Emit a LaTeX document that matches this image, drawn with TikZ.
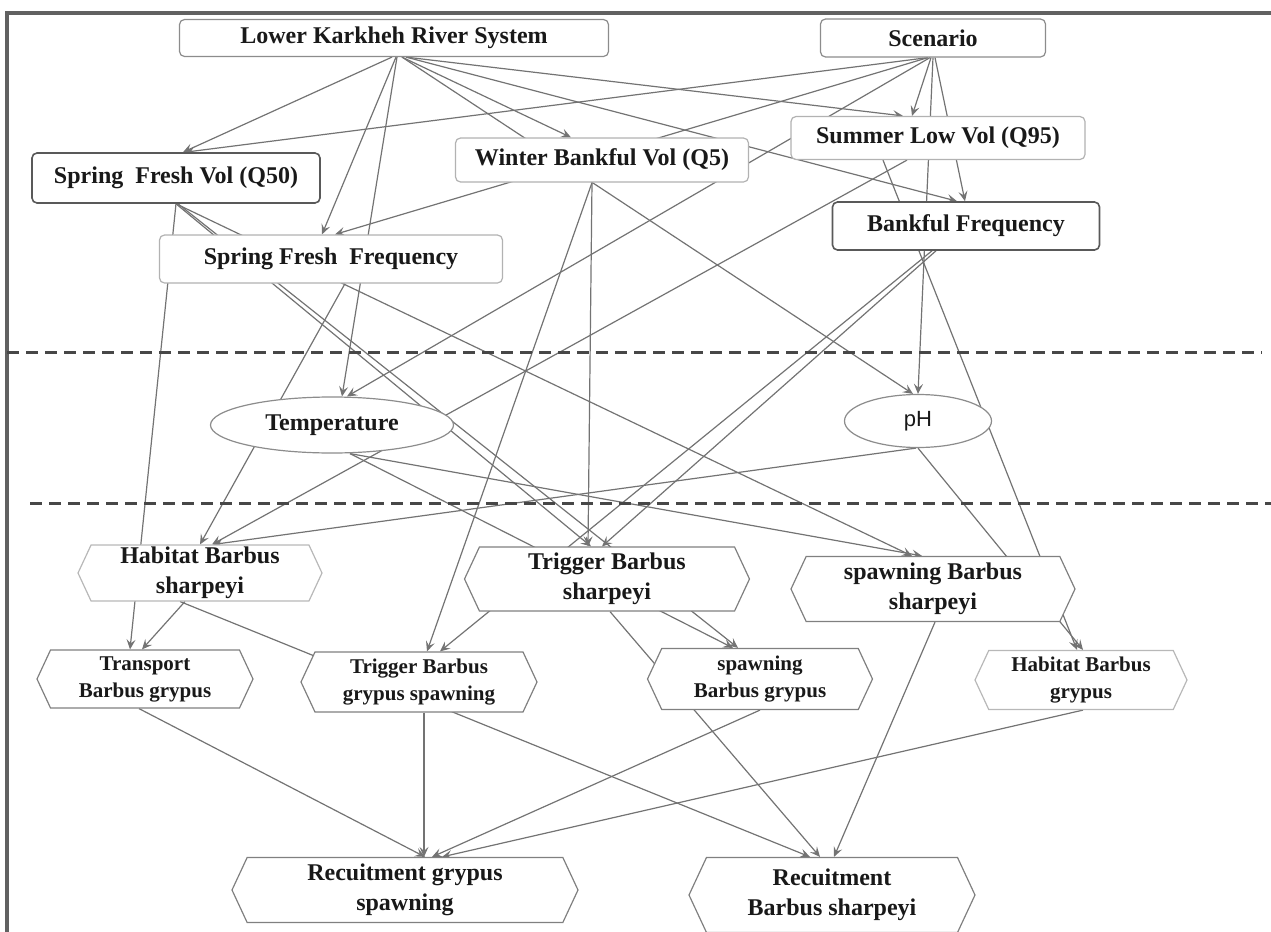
\documentclass[tikz,border=0pt]{standalone}
\usepackage{fontspec}
\setmainfont{Liberation Serif}
\setsansfont{Liberation Sans}
\usepackage{tikz}
\usetikzlibrary{shapes.geometric, shapes.symbols, arrows.meta, calc, backgrounds}

\begin{document}
\begin{tikzpicture}[
        x=0.5pt, y=-0.5pt,
        box/.style={rectangle, rounded corners=2.5pt, draw=black!45, line width=0.6pt, fill=white, align=center, font=\bfseries\fontsize{12}{15}\selectfont, text=black!90, inner sep=1pt},
        dark_box/.style={box, draw=black!65, line width=0.8pt},
        light_box/.style={box, draw=black!30},
        oval/.style={ellipse, draw=black!45, line width=0.6pt, fill=white, font=\bfseries\fontsize{12}{15}\selectfont, text=black!90, inner sep=1pt},
        hexa/.style={signal, signal to=east and west, signal pointer angle=130, draw=black!50, line width=0.6pt, fill=white, align=center, font=\bfseries\fontsize{12}{15}\selectfont, text=black!90, inner sep=1pt},
        small_hexa/.style={hexa, font=\bfseries\fontsize{10.5}{13.5}\selectfont},
        link/.style={-{Stealth[length=5pt,width=4.5pt,inset=2pt]}, draw=black!55, line width=0.6pt},
        divider/.style={draw=black!72, line width=1.5pt, dash pattern=on 6pt off 3.5pt},
        frame/.style={draw=black!62, line width=1.8pt}
    ]
    \useasboundingbox (0,0) rectangle (1271,932);
    \draw[frame] (7,932) -- (7,13) -- (1271,13);

    % flow level
    \node[box, minimum width=214.5pt, minimum height=18.5pt] (lower_karkheh) at (394,38) {Lower Karkheh River System};
    \node[box, minimum width=112.5pt, minimum height=19pt] (scenario) at (933,38) {Scenario};
    \node[dark_box, minimum width=144pt, minimum height=25pt] (spring_fresh_vol) at (176,178) {Spring\ \ Fresh Vol (Q50)};
    \node[light_box, minimum width=146.5pt, minimum height=22pt] (winter_bankful_vol) at (602,160) {Winter Bankful Vol (Q5)};
    \node[light_box, minimum width=147pt, minimum height=21.5pt] (summer_low_vol) at (938,138) {Summer Low Vol (Q95)};
    \node[light_box, minimum width=171.5pt, minimum height=24pt] (spring_fresh_freq) at (331,259) {Spring Fresh\ \ Frequency};
    \node[dark_box, minimum width=133.5pt, minimum height=24pt] (bankful_freq) at (966,226) {Bankful Frequency};

    % water quality level
    \node[oval, minimum width=121.5pt, minimum height=28pt] (temperature) at (332,425) {Temperature};
    \node[oval, minimum width=73.5pt, minimum height=26.5pt, font=\sffamily\fontsize{11}{13}\selectfont] (ph) at (918,421) {pH};

    % fish level
    \node[hexa, draw=black!28, minimum width=122pt, minimum height=26.5pt] (habitat_sharpeyi) at (200,573) {Habitat Barbus\\sharpeyi};
    \node[hexa, minimum width=142.5pt, minimum height=32pt] (trigger_sharpeyi) at (607,579) {Trigger Barbus\\sharpeyi};
    \node[hexa, minimum width=142pt, minimum height=32.5pt] (spawning_sharpeyi) at (933,589) {spawning Barbus\\sharpeyi};
    \node[small_hexa, minimum width=108pt, minimum height=29pt] (transport_grypus) at (145,679) {Transport\\Barbus grypus};
    \node[small_hexa, minimum width=118pt, minimum height=30pt] (trigger_grypus) at (419,682) {Trigger Barbus\\grypus spawning};
    \node[small_hexa, minimum width=112.5pt, minimum height=30.5pt] (spawning_grypus) at (760,679) {spawning\\Barbus grypus};
    \node[small_hexa, draw=black!28, minimum width=106pt, minimum height=29.5pt] (habitat_grypus) at (1081,680) {Habitat Barbus\\grypus};
    \node[hexa, minimum width=173pt, minimum height=32.5pt] (recruit_grypus) at (405,890) {Recuitment grypus\\spawning};
    \node[hexa, minimum width=143pt, minimum height=37.5pt] (recruit_sharpeyi) at (832,895) {Recuitment\\Barbus sharpeyi};

    \draw[divider] (7,352) -- (1262,352);
    \draw[divider] (30,503) -- (1271,503);

    \begin{scope}[on background layer]
    \draw[link] ($(lower_karkheh.south)+(-2,0)$) -- ($(spring_fresh_vol.north)+(7,0)$);
    \draw[link] ($(lower_karkheh.south)+(2,0)$) -- ($(spring_fresh_freq.north)+(-9,0)$);
    \draw[link] ($(lower_karkheh.south)+(3,0)$) -- ($(temperature.north)+(10,0)$);
    \draw[link] ($(lower_karkheh.south)+(8,0)$) -- ($(ph.north)+(-5,0)$);
    \draw[link] ($(lower_karkheh.south)+(8,0)$) -- ($(winter_bankful_vol.north)+(-31,0)$);
    \draw[link] ($(lower_karkheh.south)+(12,0)$) -- ($(summer_low_vol.north)+(-35,0)$);
    \draw[link] ($(lower_karkheh.south)+(12,0)$) -- ($(bankful_freq.north)+(-9,0)$);
    \draw[link] ($(scenario.south)+(-5,0)$) -- ($(spring_fresh_vol.north)+(9,0)$);
    \draw[link] ($(scenario.south)+(-5,0)$) -- ($(spring_fresh_freq.north)+(4,0)$);
    \draw[link] ($(scenario.south)+(-3,0)$) -- ($(temperature.north)+(15,0)$);
    \draw[link] ($(scenario.south)+(-2,0)$) -- ($(summer_low_vol.north)+(-26,0)$);
    \draw[link] (scenario.south) -- (ph.north);
    \draw[link] ($(scenario.south)+(2,0)$) -- ($(bankful_freq.north)+(-1,0)$);
    \draw[link] ($(winter_bankful_vol.south)+(-10,0)$) -- ($(trigger_sharpeyi.north)+(-19,0)$);
    \draw[link] ($(winter_bankful_vol.south)+(-10,0)$) -- ($(trigger_grypus.north)+(8,0)$);
    \draw[link] (spring_fresh_vol.south) -- ($(transport_grypus.north)+(-15,0)$);
    \draw[link] (spring_fresh_vol.south) -- ($(trigger_sharpeyi.north)+(-16,0)$);
    \draw[link] (spring_fresh_vol.south) -- ($(spawning_sharpeyi.north)+(-21,0)$);
    \draw[link] ($(spring_fresh_vol.south)+(2,0)$) -- ($(spawning_grypus.north)+(-22,0)$);
    \draw[link] ($(spring_fresh_freq.south)+(14,0)$) -- (habitat_sharpeyi.north);
    \draw[link] ($(summer_low_vol.south)+(-31,0)$) -- ($(habitat_sharpeyi.north)+(12,0)$);
    \draw[link] ($(summer_low_vol.south)+(-55,0)$) -- ($(habitat_grypus.north)+(-4,0)$);
    \draw[link] ($(bankful_freq.south)+(-30,0)$) -- ($(trigger_sharpeyi.north)+(-5,0)$);
    \draw[link] ($(bankful_freq.south)+(-34,0)$) -- ($(trigger_grypus.north)+(21,0)$);
    \draw[link] ($(temperature.south)+(18,0)$) -- ($(spawning_sharpeyi.north)+(-11,0)$);
    \draw[link] ($(temperature.south)+(18,0)$) -- ($(spawning_grypus.north)+(-27,0)$);
    \draw[link] ($(ph.south)+(-2,0)$) -- ($(habitat_sharpeyi.north)+(13,0)$);
    \draw[link] (ph.south) -- ($(habitat_grypus.north)+(2,0)$);
    \draw[link] ($(habitat_sharpeyi.south)+(-15,0)$) -- ($(transport_grypus.north)+(-3,0)$);
    \draw[link] ($(habitat_sharpeyi.south)+(-20,0)$) -- ($(recruit_sharpeyi.north)+(-22,0)$);
    \draw[link] ($(trigger_sharpeyi.south)+(3,0)$) -- ($(recruit_sharpeyi.north)+(-12,0)$);
    \draw[link] ($(spawning_sharpeyi.south)+(2,0)$) -- ($(recruit_sharpeyi.north)+(2,0)$);
    \draw[link] ($(transport_grypus.south)+(-6,0)$) -- ($(recruit_grypus.north)+(20,0)$);
    \draw[link] ($(trigger_grypus.south)+(5,0)$) -- ($(recruit_grypus.north)+(19,0)$);
    \draw[link] (spawning_grypus.south) -- ($(recruit_grypus.north)+(27,0)$);
    \draw[link] ($(habitat_grypus.south)+(2,0)$) -- ($(recruit_grypus.north)+(37,0)$);
    \end{scope}
\end{tikzpicture}
\end{document}
